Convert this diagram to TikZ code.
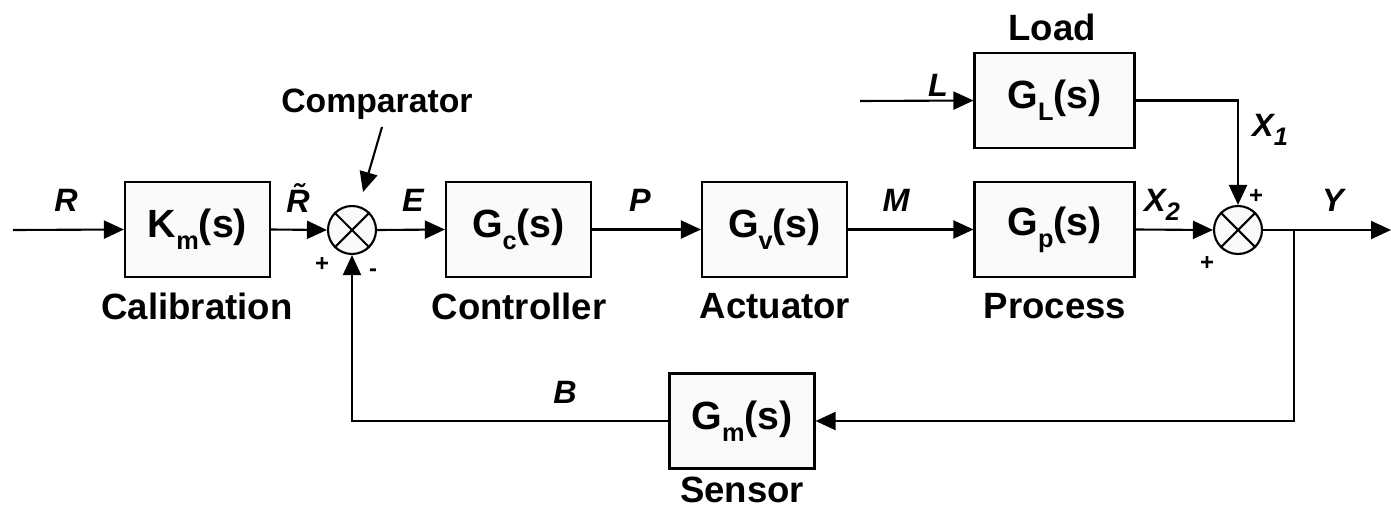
\documentclass[tikz,border=0pt]{standalone}
\usepackage{fontspec}
\setmainfont{Liberation Sans}
\usetikzlibrary{arrows.meta, calc, positioning}

\definecolor{boxfill}{gray}{0.98}
\newcommand{\lowidx}[1]{\raisebox{-0.3em}{\fontsize{18}{18}\selectfont #1}}

\tikzset{
  block/.style={draw, fill=boxfill, line width=1.5pt, minimum width=3.625cm, minimum height=2.375cm,
    font=\fontsize{28}{30}\selectfont\bfseries, inner sep=0pt},
  junction/.style={draw, fill=boxfill, circle, line width=1.5pt, minimum size=1.2cm, inner sep=0pt},
  caption/.style={font=\fontsize{26}{28}\selectfont\bfseries},
  signal/.style={font=\fontsize{23}{24}\selectfont\bfseries\itshape},
  sign/.style={font=\fontsize{17}{18}\selectfont\bfseries},
  line/.style={line width=1.5pt},
  arr/.style={line, -{Triangle[length=0.5cm, width=0.45cm]}}
}

\begin{document}
\begin{tikzpicture}[x=0.025cm, y=-0.025cm]

  \useasboundingbox (0,0) rectangle (1391,519);

  % blocks
  \node[block] (km) at (197.5,229.5) {K\lowidx{m}(s)};
  \node[block] (gc) at (518.5,229.5) {G\lowidx{c}(s)};
  \node[block] (gv) at (774.5,229.5) {G\lowidx{v}(s)};
  \node[block, minimum width=4cm] (gp) at (1054.5,229.5) {G\lowidx{p}(s)};
  \node[block, minimum width=4cm] (gl) at (1054.5,100.5) {G\lowidx{L}(s)};
  \node[block] (gm) at (742,421) {G\lowidx{m}(s)};

  % summing points
  \node[junction] (cmp) at (352,230) {};
  \node[junction] (sum) at (1238,230) {};
  \draw[line] (cmp.45) -- (cmp.225) (cmp.135) -- (cmp.315);
  \draw[line] (sum.45) -- (sum.225) (sum.135) -- (sum.315);

  \coordinate (in) at (13,230);
  \coordinate (lin) at (860,101);
  \coordinate (out) at (1391,230);
  \coordinate (tap) at (1294,230);

  % forward path
  \draw[arr] (in) -- (km.west);
  \draw[arr] (km.east) -- (cmp.west);
  \draw[arr] (cmp.east) -- (gc.west);
  \draw[arr] (gc.east) -- (gv.west);
  \draw[arr] (gv.east) -- (gp.west);
  \draw[arr] (gp.east) -- (sum.west);
  \draw[arr] (sum.east) -- (out);

  % load
  \draw[arr] (lin) -- (gl.west);
  \draw[arr] (gl.east) -| (sum.north);

  % feedback
  \draw[arr] (tap) |- (gm.east);
  \draw[arr] (gm.west) -| (cmp.south);

  % captions
  \node[caption] (cal) at (197,306) {Calibration};
  \node[caption] (con) at (519,306) {Controller};
  \node[caption] (act) at (775,306) {Actuator};
  \node[caption] (pro) at (1055,306) {Process};
  \node[caption] (sen) at (742,490) {Sensor};
  \node[caption] (lod) at (1052,27) {Load};
  \node[caption, font=\fontsize{24}{26}\selectfont\bfseries] (cap) at (377,104) {Comparator};
  \coordinate (cmptip) at (363,192);
  \draw[arr] (382,127) -- (cmptip);

  % signals
  \node[signal] at (66,200) {R};
  \node[signal] at (298,198) {\~{R}};
  \node[signal] at (413,200) {E};
  \node[signal] at (640,200) {P};
  \node[signal] at (896,200) {M};
  \node[signal] at (1162,205) {X\lowidx{2}};
  \node[signal] at (1333,200) {Y};
  \node[signal] at (1270,130) {X\lowidx{1}};
  \node[signal] at (938,85) {L};
  \node[signal] at (565,392) {B};

  % signs
  \node[sign] at (322,264) {+};
  \node[sign] at (373,273) {-};
  \node[sign] at (1256,196) {+};
  \node[sign] at (1207,263) {+};

\end{tikzpicture}
\end{document}
